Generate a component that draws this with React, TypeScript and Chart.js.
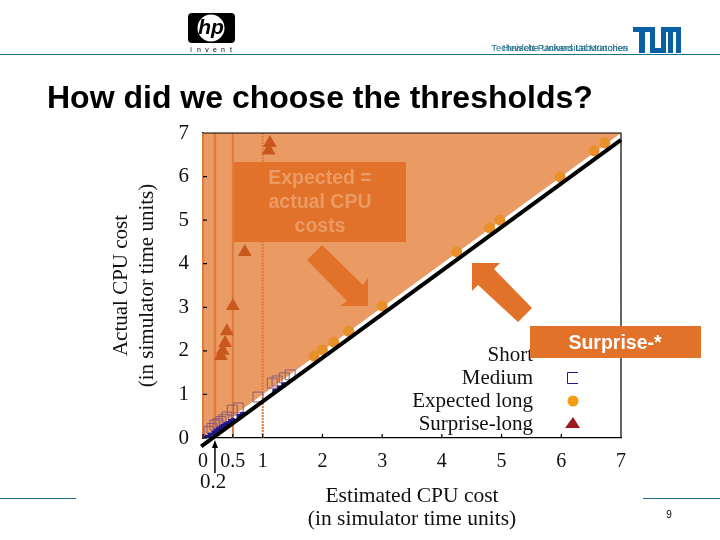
import { useEffect, useRef } from "react"
import { Chart, registerables } from "chart.js"

Chart.register(...registerables)

const xTicks = [0, 0.5, 1, 2, 3, 4, 5, 6, 7]
const yTicks = [0, 1, 2, 3, 4, 5, 6, 7]
const thresholds = [0, 0.2, 0.5, 1]

const expectedX = [1.86, 2.0, 2.19, 2.44, 3.0, 4.25, 4.8, 4.97, 5.98, 6.55, 6.73]
const expectedY = [1.88, 2.02, 2.2, 2.45, 3.03, 4.27, 4.82, 5.0, 5.99, 6.59, 6.77]
const surpriseX = [1.12, 1.1, 0.7, 0.5, 0.4, 0.37, 0.33, 0.3]
const surpriseY = [6.77, 6.6, 4.27, 3.03, 2.45, 2.18, 2.0, 1.88]
const mediumX = [0.1, 0.15, 0.2, 0.25, 0.3, 0.35, 0.4, 0.49, 0.59, 0.92, 1.16, 1.24, 1.36, 1.46]
const mediumY = [0.15, 0.22, 0.3, 0.33, 0.38, 0.42, 0.48, 0.64, 0.69, 0.94, 1.26, 1.31, 1.38, 1.45]
const shortX = [0.06, 0.12, 0.18, 0.22, 0.26, 0.3, 0.34, 0.38, 0.42, 0.46, 0.5, 0.6, 0.66, 1.2, 1.28, 1.35]
const shortY = [0.02, 0.07, 0.12, 0.16, 0.2, 0.24, 0.28, 0.31, 0.34, 0.38, 0.41, 0.5, 0.55, 1.08, 1.15, 1.22]
const idealX = [0, 7]
const idealY = [0, 7]
const fitX = [-0.03, 7]
const fitY = [-0.19, 6.84]

const legendLabels = ["Short", "Medium", "Expected long", "Surprise-long"]

const ORANGE = "#e2722a"
const SERIF = "Liberation Serif"
const SANS = "Liberation Sans"

const toPoints = (xs: number[], ys: number[]) => xs.map((x, i) => ({ x, y: ys[i] }))

function arrow(ctx: CanvasRenderingContext2D, pts: number[][]) {
  ctx.beginPath()
  pts.forEach(([x, y], i) => (i ? ctx.lineTo(x, y) : ctx.moveTo(x, y)))
  ctx.closePath()
  ctx.fill()
}

const slidePlugin = {
  id: "slide",
  beforeDraw(chart: Chart) {
    const ctx = chart.ctx
    ctx.save()
    ctx.fillStyle = "#fff"
    ctx.fillRect(0, 0, 720, 540)

    // header and footer rules
    ctx.strokeStyle = "#1f6f8b"
    ctx.lineWidth = 1
    ctx.beginPath()
    ctx.moveTo(0, 54.5)
    ctx.lineTo(720, 54.5)
    ctx.moveTo(0, 498.5)
    ctx.lineTo(76, 498.5)
    ctx.moveTo(643, 498.5)
    ctx.lineTo(720, 498.5)
    ctx.stroke()

    // hp logo
    ctx.fillStyle = "#000"
    ctx.beginPath()
    ctx.roundRect(188, 13, 47, 30, 4)
    ctx.fill()
    ctx.fillStyle = "#fff"
    ctx.beginPath()
    ctx.arc(211, 28, 13.5, 0, Math.PI * 2)
    ctx.fill()
    ctx.fillStyle = "#000"
    ctx.font = `italic bold 21px ${SANS}`
    ctx.textAlign = "center"
    ctx.textBaseline = "middle"
    ctx.fillText("hp", 211, 28)
    ctx.font = `7px ${SANS}`
    "invent".split("").forEach((c, i) => ctx.fillText(c, 191 + i * 8, 50))

    // TUM logo
    ctx.fillStyle = "#0b5fa5"
    ctx.fillRect(633, 27, 18, 5)
    ctx.fillRect(639, 27, 6, 26)
    ctx.fillRect(650, 27, 5, 26)
    ctx.fillRect(650, 48, 16, 5)
    ctx.fillRect(661, 27, 5, 26)
    ctx.fillRect(661, 27, 20, 5)
    ctx.fillRect(668, 27, 5, 26)
    ctx.fillRect(676, 27, 5, 26)

    // header text, overprinted in the original
    ctx.fillStyle = "#1f6f8b"
    ctx.font = `9.5px ${SANS}`
    ctx.textAlign = "right"
    ctx.textBaseline = "alphabetic"
    ctx.fillText("Technische Universität München", 628, 51)
    ctx.fillText("Hewlett-Packard Laboratories", 628, 51)

    ctx.fillStyle = "#000"
    ctx.textAlign = "left"
    ctx.font = `bold 32px ${SANS}`
    ctx.fillText("How did we choose the thresholds?", 47, 108)
    ctx.textAlign = "center"
    ctx.font = `10px ${SANS}`
    ctx.fillText("9", 669, 518)
    ctx.restore()
  },
  afterDraw(chart: Chart) {
    const ctx = chart.ctx
    const { left, right, top, bottom } = chart.chartArea
    const xs = chart.scales.x
    const ys = chart.scales.y
    ctx.save()

    // frame and inward ticks
    ctx.strokeStyle = "#000"
    ctx.lineWidth = 1.2
    ctx.beginPath()
    ctx.moveTo(left, top)
    ctx.lineTo(right, top)
    ctx.lineTo(right, bottom)
    xTicks.forEach((t) => {
      const px = xs.getPixelForValue(t)
      ctx.moveTo(px, bottom)
      ctx.lineTo(px, bottom - 4)
    })
    yTicks.forEach((t) => {
      const py = ys.getPixelForValue(t)
      ctx.moveTo(left, py)
      ctx.lineTo(left + 4, py)
    })
    ctx.stroke()

    // legend
    ctx.fillStyle = "#111"
    ctx.font = `21px ${SERIF}`
    ctx.textAlign = "right"
    ctx.textBaseline = "alphabetic"
    legendLabels.forEach((label, i) => ctx.fillText(label, 533, [361, 384, 407, 430][i]))
    ctx.strokeStyle = "#1a1a8c"
    ctx.lineWidth = 1
    ctx.beginPath()
    ctx.moveTo(578, 372.5)
    ctx.lineTo(567.5, 372.5)
    ctx.lineTo(567.5, 383.5)
    ctx.lineTo(578, 383.5)
    ctx.stroke()
    ctx.fillStyle = "#f59b16"
    ctx.beginPath()
    ctx.arc(573, 401, 5.5, 0, Math.PI * 2)
    ctx.fill()
    ctx.fillStyle = "#9b1c1f"
    arrow(ctx, [[573, 417], [580, 428], [565, 428]])

    // the 0.2 marker
    const px = xs.getPixelForValue(0.2)
    ctx.strokeStyle = "#000"
    ctx.lineWidth = 1.5
    ctx.beginPath()
    ctx.moveTo(px, 473)
    ctx.lineTo(px, 446)
    ctx.stroke()
    ctx.fillStyle = "#000"
    arrow(ctx, [[px, 440], [px + 3, 448], [px - 3, 448]])
    ctx.font = `21px ${SERIF}`
    ctx.textAlign = "center"
    ctx.textBaseline = "middle"
    ctx.fillStyle = "#111"
    ctx.fillText("0.2", 213, 482)

    // callouts
    ctx.fillStyle = ORANGE
    ctx.fillRect(234, 162, 172, 80)
    ctx.fillRect(530, 326, 171, 32)
    arrow(ctx, [[322, 245], [363, 285], [368, 278], [368, 306], [340, 306], [347, 301], [307, 260]])
    arrow(ctx, [[472, 263], [500, 263], [494, 269], [532, 308], [518, 322], [478, 285], [472, 291]])
    ctx.font = `bold 19.5px ${SANS}`
    ctx.fillStyle = "#ea9b64"
    ctx.fillText("Expected =", 320, 179)
    ctx.fillText("actual CPU", 320, 203)
    ctx.fillText("costs", 320, 227)
    ctx.font = `bold 19.5px ${SANS}`
    ctx.fillStyle = "#fff"
    ctx.fillText("Surprise-*", 615, 344)
    ctx.restore()
  },
}

export default function App() {
  const chartRef = useRef<HTMLCanvasElement>(null)

  useEffect(() => {
    if (!chartRef.current) return
    const chart = new Chart(chartRef.current, {
      type: "scatter",
      plugins: [slidePlugin],
      data: {
        datasets: [
          {
            label: "Expected = actual",
            data: toPoints(idealX, idealY),
            showLine: true,
            borderWidth: 0,
            pointRadius: 0,
            backgroundColor: "#ea9b64",
            fill: "end",
            order: 10,
          },
          ...thresholds.map((t, i) => ({
            label: `Threshold ${t}`,
            data: [
              { x: t, y: 0 },
              { x: t, y: 7 },
            ],
            showLine: true,
            borderColor: "#e0793a",
            borderWidth: i === 1 ? 2.5 : 2,
            borderDash: i === 3 ? [2, 1] : [],
            pointRadius: 0,
            clip: false,
            order: 4,
          })),
          {
            label: "Short",
            data: toPoints(shortX, shortY),
            pointStyle: "rect",
            pointRadius: 2.5,
            backgroundColor: "#1a1a8c",
            borderColor: "#1a1a8c",
            order: 3,
          },
          {
            label: "Medium",
            data: toPoints(mediumX, mediumY),
            pointStyle: "rect",
            pointRadius: 7,
            backgroundColor: "transparent",
            borderColor: "#8f5a78",
            borderWidth: 1,
            order: 3,
          },
          {
            label: "Expected long",
            data: toPoints(expectedX, expectedY),
            pointRadius: 5.5,
            backgroundColor: "#e8912a",
            borderWidth: 0,
            order: 3,
          },
          {
            label: "Surprise-long",
            data: toPoints(surpriseX, surpriseY),
            pointStyle: "triangle",
            pointRadius: 8,
            backgroundColor: "#c9581f",
            borderWidth: 0,
            order: 3,
          },
          {
            label: "Fit",
            data: toPoints(fitX, fitY),
            showLine: true,
            borderColor: "#000",
            borderWidth: 4,
            pointRadius: 0,
            clip: false,
            order: 1,
          },
        ],
      },
      options: {
        responsive: false,
        animation: false,
        layout: { padding: { top: 133, right: 99 } },
        plugins: { legend: { display: false }, tooltip: { enabled: false } },
        scales: {
          x: {
            type: "linear",
            min: 0,
            max: 7,
            afterFit: (scale: any) => {
              scale.height = 102
            },
            afterBuildTicks: (scale: any) => {
              scale.ticks = xTicks.map((value) => ({ value }))
            },
            grid: { drawOnChartArea: false, drawTicks: false },
            border: { color: "#000", width: 1.2 },
            ticks: {
              autoSkip: false,
              maxRotation: 0,
              padding: 12,
              color: "#111",
              font: { family: SERIF, size: 20 },
              callback: (v: any) => String(v),
            },
            title: {
              display: true,
              text: ["Estimated CPU cost", "(in simulator time units)"],
              color: "#111",
              padding: { top: 0, bottom: 9 },
              font: { family: SERIF, size: 21.5, weight: "normal", lineHeight: 1.08 },
            },
          },
          y: {
            type: "linear",
            min: 0,
            max: 7,
            afterFit: (scale: any) => {
              scale.width = 203
            },
            grid: { drawOnChartArea: false, drawTicks: false },
            border: { color: "#000", width: 1.2 },
            ticks: {
              stepSize: 1,
              padding: 14,
              color: "#111",
              font: { family: SERIF, size: 21 },
              callback: (v: any) => String(v),
            },
            title: {
              display: true,
              text: ["Actual CPU cost", "(in simulator time units)"],
              color: "#111",
              padding: { top: 108, bottom: 0 },
              font: { family: SERIF, size: 21, weight: "normal", lineHeight: 1.24 },
            },
          },
        },
      },
    } as any)
    return () => chart.destroy()
  }, [])

  return (
    <div style={{ position: "fixed", left: 0, top: 0, width: 720, height: 540 }}>
      <canvas ref={chartRef} width={720} height={540} style={{ display: "block" }} />
    </div>
  )
}
